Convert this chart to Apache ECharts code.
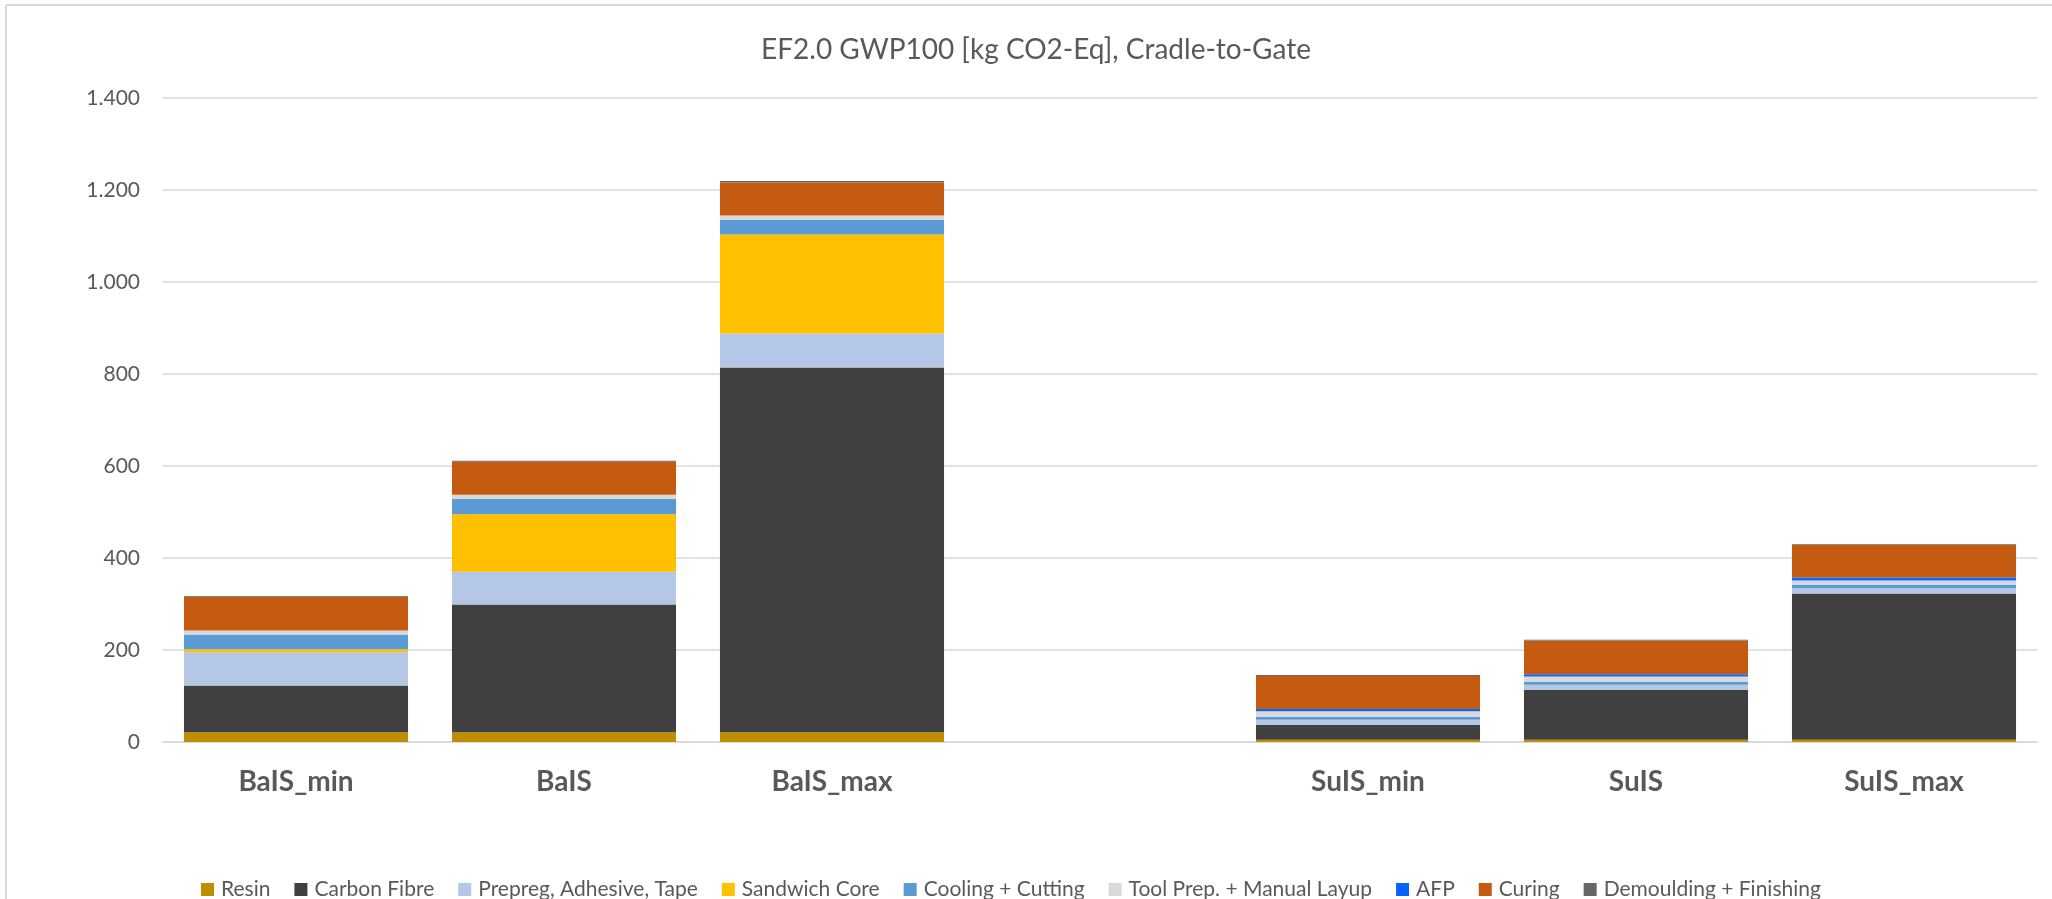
<!DOCTYPE html>
<html>
<head>
<meta charset="utf-8">
<script src="https://cdn.jsdelivr.net/npm/echarts@6/dist/echarts.min.js"></script>
<style>
html,body{margin:0;padding:0;background:#fff;}
#chart{width:2052px;height:899px;}
</style>
</head>
<body>
<div id="chart"></div>
<script>
const categories = ['BaIS_min', 'BaIS', 'BaIS_max', '', 'SuIS_min', 'SuIS', 'SuIS_max'];
const yTicks = [0, 200, 400, 600, 800, 1000, 1200, 1400];
const resin       = [21, 21, 21, null, 5, 5, 5];
const carbonFibre = [102, 278, 793, null, 32, 108, 318];
const prepreg     = [72, 71, 74, null, 11.5, 11.5, 11];
const sandwich    = [6.5, 125, 215, null, 0, 0, 0];
const cooling     = [32, 33, 32.5, null, 6.5, 6.5, 8];
const toolPrep    = [9, 9.5, 9, null, 12, 11.5, 9];
const afp         = [0, 0, 0, null, 4.5, 5, 6.5];
const curing      = [73, 72, 72, null, 72, 73, 71];
const demoulding  = [2, 2, 3, null, 2, 2, 1.5];

const seriesDefs = [
  ['Resin', resin, '#BF8F00'],
  ['Carbon Fibre', carbonFibre, '#404040'],
  ['Prepreg, Adhesive, Tape', prepreg, '#B4C7E7'],
  ['Sandwich Core', sandwich, '#FFC000'],
  ['Cooling + Cutting', cooling, '#5B9BD5'],
  ['Tool Prep. + Manual Layup', toolPrep, '#D9D9D9'],
  ['AFP', afp, '#0563FF'],
  ['Curing', curing, '#C55A11'],
  ['Demoulding + Finishing', demoulding, '#666666']
];

const FONT = 'Lato, "Open Sans", sans-serif';
const chart = echarts.init(document.getElementById('chart'), null, {renderer: 'canvas'});
chart.setOption({
  animation: false,
  backgroundColor: '#fff',
  textStyle: {fontFamily: FONT},
  title: {
    text: 'EF2.0 GWP100 [kg CO2-Eq], Cradle-to-Gate',
    left: 1031, textAlign: 'center', top: 31,
    textStyle: {fontFamily: FONT, fontSize: 28, fontWeight: 'normal', color: '#595959'}
  },
  legend: {
    left: 196, top: 874,
    itemWidth: 13, itemHeight: 13, itemGap: 24,
    icon: 'rect',
    textStyle: {fontFamily: FONT, fontSize: 21, color: '#595959', padding: [0,0,0,2]},
    data: seriesDefs.map(d => d[0])
  },
  grid: {left: 162, right: 14, top: 98, bottom: 157, containLabel: false},
  xAxis: {
    type: 'category', data: categories,
    axisLine: {show: true, lineStyle: {color: '#D9D9D9', width: 1.5}},
    axisTick: {show: false},
    axisLabel: {fontFamily: FONT, fontSize: 28, fontWeight: 'bold', color: '#595959', margin: 26}
  },
  yAxis: {
    type: 'value', min: 0, max: 1400, interval: 200,
    axisLine: {show: false}, axisTick: {show: false},
    splitLine: {lineStyle: {color: '#D9D9D9', width: 1.5}},
    axisLabel: {fontFamily: FONT, fontSize: 21, color: '#595959', margin: 22,
      formatter: v => yTicks.includes(v) ? String(v).replace(/\B(?=(\d{3})+(?!\d))/g, '.') : ''}
  },
  graphic: [
    {type: 'line', shape: {x1: 6, y1: 5, x2: 2052, y2: 5}, style: {stroke: '#D9D9D9', lineWidth: 2}},
    {type: 'line', shape: {x1: 6, y1: 5, x2: 6, y2: 899}, style: {stroke: '#D9D9D9', lineWidth: 2}}
  ],
  series: seriesDefs.map(d => ({
    name: d[0], type: 'bar', stack: 'total', data: d[1],
    barCategoryGap: '16.4%',
    itemStyle: {color: d[2]}
  }))
});
</script>
</body>
</html>
